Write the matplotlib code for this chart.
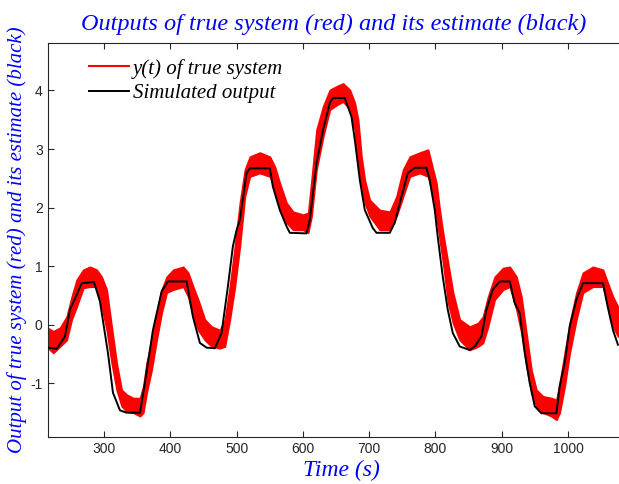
import matplotlib
matplotlib.use('Agg')
import matplotlib.pyplot as plt
import numpy as np

plt.rcParams['axes.unicode_minus'] = False

# simulated output (black)
t_sim = [214.5, 228.2, 240.7, 248.3, 258.4, 265.9, 284.5, 293.5, 305.6, 313.2,
         323.7, 333.8, 353.9, 361.4, 373.5, 386.6, 396.1, 424.3, 433.8, 444.4,
         454.5, 467.0, 477.1, 486.6, 494.2, 499.8, 504.7, 514.8, 519.8, 550.0,
         554.5, 565.0, 575.2, 580.1, 605.3, 610.3, 620.4, 630.4, 640.5, 645.0,
         663.1, 673.2, 678.2, 685.8, 693.3, 705.4, 711.0, 731.0, 738.5, 748.7,
         758.2, 768.7, 786.4, 791.3, 798.9, 803.4, 811.0, 818.5, 826.1, 836.6,
         851.6, 859.2, 869.3, 876.9, 886.4, 897.0, 912.1, 919.6, 927.1, 934.8,
         942.2, 949.8, 959.9, 982.5, 987.5, 995.0, 1002.6, 1012.7, 1022.6, 1052.8,
         1059.9, 1067.9, 1075.4]
y_sim = [-0.39, -0.41, -0.20, 0.26, 0.51, 0.71, 0.73, 0.40, -0.48, -1.16,
         -1.46, -1.50, -1.50, -0.99, -0.09, 0.57, 0.74, 0.74, 0.14, -0.31,
         -0.39, -0.40, -0.14, 0.65, 1.34, 1.62, 1.79, 2.59, 2.67, 2.67,
         2.36, 1.96, 1.68, 1.57, 1.56, 1.79, 2.76, 3.33, 3.79, 3.87,
         3.87, 3.55, 3.16, 2.47, 1.96, 1.65, 1.57, 1.57, 1.74, 2.19,
         2.59, 2.68, 2.68, 2.47, 1.96, 1.50, 0.82, 0.26, -0.14, -0.37,
         -0.43, -0.37, -0.20, 0.26, 0.60, 0.74, 0.74, 0.37, 0.20, -0.48,
         -0.99, -1.39, -1.51, -1.51, -1.05, -0.65, -0.03, 0.43, 0.71, 0.71,
         0.31, -0.09, -0.34]

# true (noisy) system output: upper / lower envelope of the red trace
t_true = [214.5, 223.1, 233.2, 243.3, 250.9, 258.4, 268.4, 278.5, 288.6, 296.1,
          303.7, 311.2, 318.7, 326.3, 333.8, 343.8, 353.9, 358.9, 364.0, 371.5,
          379.1, 386.6, 394.2, 404.1, 419.2, 426.7, 434.3, 441.8, 451.9, 462.0,
          474.6, 482.1, 489.6, 497.2, 504.7, 512.3, 519.8, 534.9, 550.0, 557.5,
          565.0, 575.2, 585.1, 600.2, 607.8, 612.9, 620.4, 630.4, 640.5, 650.6,
          660.6, 670.7, 678.2, 683.2, 688.3, 693.3, 700.8, 715.9, 731.0, 741.1,
          751.1, 761.2, 776.3, 788.8, 796.3, 801.4, 806.4, 811.4, 818.9, 826.5,
          836.6, 851.6, 864.2, 871.7, 879.3, 889.4, 902.0, 912.1, 922.2, 929.7,
          937.2, 944.8, 952.3, 962.3, 975.0, 982.5, 987.5, 995.0, 1002.6, 1012.7,
          1022.6, 1037.7, 1052.8, 1060.3, 1067.9, 1075.4]
y_true_hi = [-0.05, -0.11, -0.05, 0.14, 0.48, 0.77, 0.94, 0.99, 0.94, 0.82,
             0.60, -0.03, -0.65, -1.11, -1.19, -1.25, -1.25, -1.05, -0.65, -0.26,
             0.20, 0.60, 0.82, 0.94, 0.99, 0.89, 0.65, 0.43, 0.09, -0.03,
             -0.09, 0.09, 0.65, 1.34, 2.08, 2.65, 2.87, 2.94, 2.87, 2.70,
             2.42, 2.08, 1.93, 1.88, 1.91, 2.47, 3.33, 3.73, 4.01, 4.07,
             4.12, 4.01, 3.79, 3.50, 2.87, 2.47, 2.13, 1.96, 1.93, 2.19,
             2.65, 2.87, 2.94, 2.99, 2.65, 2.42, 1.96, 1.57, 1.06, 0.55,
             0.09, -0.03, 0.03, 0.14, 0.48, 0.82, 0.97, 0.99, 0.82, 0.48,
             -0.14, -0.77, -1.11, -1.22, -1.25, -1.28, -0.99, -0.48, 0.03, 0.55,
             0.89, 0.99, 0.94, 0.71, 0.48, 0.31]
y_true_lo = [-0.39, -0.48, -0.37, -0.26, 0.09, 0.31, 0.63, 0.65, 0.65, 0.31,
             -0.09, -0.65, -1.11, -1.39, -1.48, -1.50, -1.56, -1.50, -1.16, -0.77,
             -0.26, 0.20, 0.55, 0.60, 0.65, 0.48, 0.14, -0.09, -0.26, -0.37,
             -0.40, -0.37, 0.09, 0.65, 1.34, 2.19, 2.53, 2.59, 2.53, 2.30,
             1.96, 1.74, 1.62, 1.62, 1.57, 1.85, 2.65, 3.21, 3.67, 3.75,
             3.81, 3.67, 3.33, 2.76, 2.36, 2.08, 1.85, 1.62, 1.62, 1.85,
             2.19, 2.53, 2.59, 2.53, 2.19, 1.85, 1.45, 1.06, 0.38, 0.03,
             -0.26, -0.43, -0.37, -0.31, -0.03, 0.43, 0.60, 0.65, 0.26, -0.14,
             -0.71, -1.16, -1.39, -1.50, -1.56, -1.62, -1.50, -1.05, -0.48, 0.09,
             0.55, 0.65, 0.65, 0.31, -0.03, -0.20]

x_ticks = [300, 400, 500, 600, 700, 800, 900, 1000]
y_ticks = [-1, 0, 1, 2, 3, 4]

serif_it = dict(family='Liberation Serif', style='italic')

fig = plt.figure(figsize=(6.19, 4.84), dpi=100)
ax = fig.add_axes([0.0769, 0.0977, 0.9231, 0.8135])

ax.fill_between(t_true, y_true_lo, y_true_hi, color='red', lw=1.2, zorder=2)
ax.plot([], [], color='red', lw=1.5, label='y(t) of true system')
ax.plot(t_sim, y_sim, color='black', lw=1.4, label='Simulated output', zorder=3)

ax.set_xlim(214.5, 1077)
ax.set_ylim(-1.91, 4.81)
ax.set_xticks(x_ticks)
ax.set_yticks(y_ticks)
ax.tick_params(direction='in', length=4, top=True, right=False, labelsize=10,
               colors='#262626', labelcolor='#262626')
for lab in ax.get_xticklabels() + ax.get_yticklabels():
    lab.set_family('Liberation Sans')
ax.spines['right'].set_visible(False)
for s in ['left', 'bottom', 'top']:
    ax.spines[s].set_color('#262626')
    ax.spines[s].set_linewidth(0.8)

ax.set_title('Outputs of true system (red) and its estimate (black)',
             color='blue', fontsize=17.5, pad=9, **serif_it)
ax.set_xlabel('Time (s)', color='blue', fontsize=17, labelpad=0, **serif_it)
ax.xaxis.set_label_coords(0.515, -0.06)
ax.set_ylabel('Output of true system (red) and its estimate (black)',
              color='blue', fontsize=15, **serif_it)
ax.yaxis.set_label_coords(-0.036, 0.5)

leg = ax.legend(loc='upper left', bbox_to_anchor=(0.0725, 0.96), frameon=False,
                borderaxespad=0, borderpad=0,
                prop=dict(family='Liberation Serif', style='italic', size=15),
                handlelength=1.9, handletextpad=0.2, labelspacing=0.25)

fig.savefig('out.png', dpi=100)
